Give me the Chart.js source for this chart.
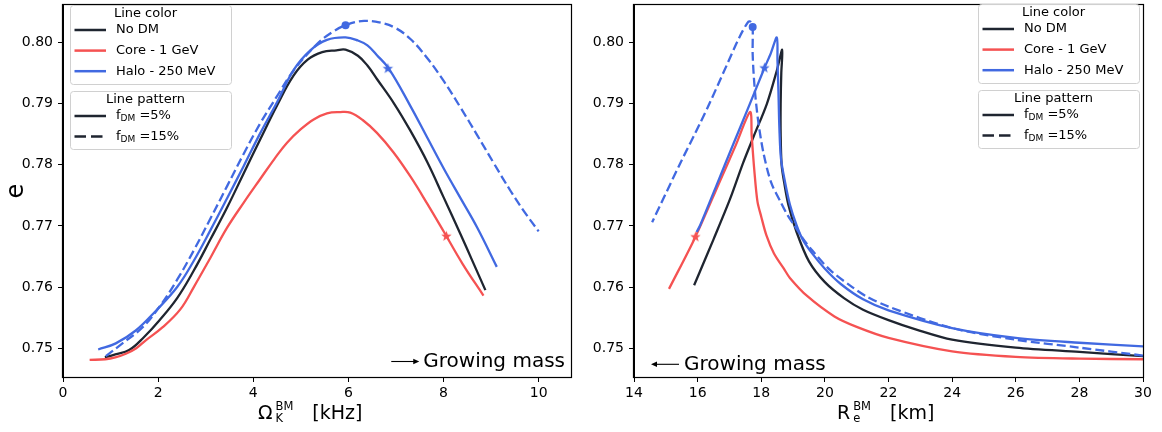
<!DOCTYPE html>
<html>
<head>
<meta charset="utf-8">
<script src="https://cdn.jsdelivr.net/npm/chart.js@4.4.0/dist/chart.umd.min.js"></script>
<style>
  html, body { margin: 0; padding: 0; background: #fff; }
  #wrap { position: relative; width: 1162px; height: 432px; }
  canvas { position: absolute; top: 0; }
</style>
</head>
<body>
<div id="wrap">
  <canvas id="omega-chart" width="580" height="432" style="left:0"></canvas>
  <canvas id="radius-chart" width="582" height="432" style="left:580px"></canvas>
</div>
<script>
const FONT = "'DejaVu Sans', sans-serif";
const BLACK = '#1f2530';
const RED = '#f55252';
const BLUE = '#4169e1';

// shared e axis
const eTicks = [0.75, 0.76, 0.77, 0.78, 0.79, 0.80];
const eRange = [0.7453, 0.8061];
const omegaTicks = [0, 2, 4, 6, 8, 10];
const omegaRange = [0, 10.68];
const radiusTicks = [14, 16, 18, 20, 22, 24, 26, 28, 30];
const radiusRange = [14, 30];

// left panel: Omega_K [kHz]
const omegaNoDM5 = [0.88, 1.10, 1.39, 1.70, 2.02, 2.40, 2.75, 3.10, 3.45, 3.80, 4.15, 4.50, 4.85, 5.15, 5.45, 5.75, 5.94, 6.20, 6.40, 6.60, 6.96, 7.30, 7.66, 8.00, 8.36, 8.60, 8.88];
const eNoDM5L = [0.7485, 0.7490, 0.7497, 0.7518, 0.7545, 0.7582, 0.7627, 0.7678, 0.7730, 0.7786, 0.7842, 0.7897, 0.7946, 0.7972, 0.7984, 0.7987, 0.7988, 0.7978, 0.7962, 0.7940, 0.7900, 0.7856, 0.7804, 0.7747, 0.7686, 0.7644, 0.7595];

const omegaCore5 = [0.56, 0.89, 1.10, 1.32, 1.54, 1.74, 2.09, 2.47, 2.75, 3.10, 3.45, 3.80, 4.15, 4.45, 4.71, 5.00, 5.27, 5.55, 5.83, 6.04, 6.30, 6.60, 6.95, 7.31, 7.66, 8.01, 8.40, 8.84];
const eCore5L = [0.7481, 0.7482, 0.7485, 0.7491, 0.7500, 0.7513, 0.7534, 0.7564, 0.7600, 0.7648, 0.7697, 0.7738, 0.7777, 0.7810, 0.7836, 0.7858, 0.7874, 0.7884, 0.7886, 0.7885, 0.7873, 0.7852, 0.7820, 0.7780, 0.7736, 0.7690, 0.7638, 0.7586];

const omegaHalo5 = [0.74, 1.11, 1.53, 1.95, 2.40, 2.75, 3.10, 3.45, 3.80, 4.15, 4.50, 4.85, 5.20, 5.55, 5.94, 6.20, 6.40, 6.60, 6.85, 7.31, 7.66, 8.01, 8.36, 8.71, 9.12];
const eHalo5L = [0.7498, 0.7508, 0.7529, 0.7561, 0.7600, 0.7643, 0.7693, 0.7745, 0.7798, 0.7852, 0.7902, 0.7955, 0.7987, 0.8004, 0.8008, 0.8003, 0.7995, 0.7979, 0.7957, 0.7895, 0.7844, 0.7793, 0.7745, 0.7697, 0.7633];

const omegaHalo15 = [0.90, 1.25, 1.67, 2.02, 2.40, 2.75, 3.10, 3.45, 3.80, 4.15, 4.50, 4.85, 5.34, 5.65, 5.94, 6.33, 6.68, 7.00, 7.31, 7.66, 8.01, 8.36, 8.71, 9.06, 9.41, 9.70, 10.00];
const eHalo15L = [0.7487, 0.7508, 0.7534, 0.7567, 0.7612, 0.7660, 0.7712, 0.7765, 0.7818, 0.7868, 0.7912, 0.7954, 0.7997, 0.8016, 0.8028, 0.8035, 0.8032, 0.8023, 0.8005, 0.7974, 0.7936, 0.7893, 0.7848, 0.7802, 0.7757, 0.7723, 0.7691];

const omegaStars = [8.06, 6.83];
const eStarsL = [0.7683, 0.7957];
const omegaDot = [5.94];
const eDotL = [0.8028];

// right panel: R_e [km]
const radiusNoDM5 = [30.0, 28.0, 26.0, 24.0, 22.9, 22.0, 21.2, 20.6, 20.0, 19.5, 19.11, 18.85, 18.72, 18.64, 18.61, 18.61, 18.63, 18.66, 18.49, 18.18, 17.76, 17.43, 17.02, 16.50, 16.07, 15.89];
const eNoDM5R = [0.7487, 0.7494, 0.7501, 0.7514, 0.7530, 0.7546, 0.7563, 0.7582, 0.7608, 0.7642, 0.7690, 0.7735, 0.7771, 0.7800, 0.7850, 0.7900, 0.7950, 0.7988, 0.7954, 0.7900, 0.7846, 0.7803, 0.7744, 0.7678, 0.7625, 0.7603];

const radiusCore5 = [30.0, 28.0, 26.0, 24.0, 22.0, 21.0, 20.3, 19.45, 18.9, 18.7, 18.4, 18.16, 18.0, 17.88, 17.78, 17.70, 17.65, 17.20, 16.70, 15.93, 15.10];
const eCore5R = [0.7482, 0.7483, 0.7486, 0.7495, 0.7517, 0.7535, 0.7552, 0.7585, 0.7615, 0.7631, 0.7655, 0.7685, 0.7715, 0.7740, 0.7792, 0.7847, 0.7886, 0.7832, 0.7773, 0.7682, 0.7597];

const radiusHalo5 = [30.0, 28.0, 26.0, 24.0, 22.0, 21.2, 20.5, 20.0, 19.6, 19.3, 19.11, 18.90, 18.75, 18.62, 18.57, 18.54, 18.51, 18.49, 18.30, 18.10, 17.60, 17.10, 16.60, 16.08, 15.97];
const eHalo5R = [0.7503, 0.7509, 0.7517, 0.7533, 0.7562, 0.7580, 0.7605, 0.7630, 0.7655, 0.7678, 0.7701, 0.7735, 0.7771, 0.7810, 0.7860, 0.7920, 0.7970, 0.8008, 0.7982, 0.7958, 0.7894, 0.7831, 0.7767, 0.7701, 0.7690];

const radiusHalo15 = [30.0, 28.0, 26.0, 24.0, 22.0, 21.3, 20.86, 20.16, 19.6, 19.3, 19.05, 18.80, 18.60, 18.31, 18.07, 17.90, 17.79, 17.73, 17.73, 17.68, 17.60, 17.33, 16.91, 16.39, 16.08, 15.47, 14.57];
const eHalo15R = [0.7488, 0.7501, 0.7514, 0.7533, 0.7568, 0.7585, 0.7600, 0.7628, 0.7660, 0.7680, 0.7700, 0.7720, 0.7740, 0.7771, 0.7819, 0.7873, 0.7927, 0.7981, 0.8025, 0.8033, 0.8034, 0.8010, 0.7962, 0.7902, 0.7868, 0.7804, 0.7706];

const radiusStars = [15.93, 18.10];
const eStarsR = [0.7682, 0.7958];
const radiusDot = [17.73];
const eDotR = [0.8025];

const starColors = [RED, BLUE];

function zip(xs, ys) {
    return xs.map((x, i) => ({ x: x, y: ys[i] }));
}

function makeStar(color, r) {
    const c = document.createElement('canvas');
    const s = Math.ceil(r * 2 + 2);
    c.width = s;
    c.height = s;
    const g = c.getContext('2d');
    g.fillStyle = color;
    g.beginPath();
    for (let i = 0; i < 10; i++) {
        const rad = i % 2 === 0 ? r : r * 0.42;
        const a = -Math.PI / 2 + i * Math.PI / 5;
        g.lineTo(s / 2 + rad * Math.cos(a), s / 2 + rad * Math.sin(a));
    }
    g.closePath();
    g.fill();
    return c;
}

function lineSet(points, color, dashed, tension) {
    return {
        data: points,
        showLine: true,
        borderColor: color,
        borderWidth: 2.3,
        borderDash: dashed ? [9, 4] : [],
        pointRadius: 0,
        tension: tension,
        fill: false
    };
}

function markerSets(xs, ys, dotX, dotY) {
    return [
        {
            data: zip(xs, ys),
            showLine: false,
            pointStyle: starColors.map(c => makeStar(c, 5.5)),
            pointRadius: 5,
            pointBackgroundColor: starColors,
            pointBorderWidth: 0
        },
        {
            data: zip(dotX, dotY),
            showLine: false,
            pointStyle: 'circle',
            pointRadius: 4,
            pointBackgroundColor: BLUE,
            pointBorderColor: BLUE,
            pointBorderWidth: 0
        }
    ];
}

function roundRect(ctx, x, y, w, h, r) {
    ctx.beginPath();
    ctx.moveTo(x + r, y);
    ctx.arcTo(x + w, y, x + w, y + h, r);
    ctx.arcTo(x + w, y + h, x, y + h, r);
    ctx.arcTo(x, y + h, x, y, r);
    ctx.arcTo(x, y, x + w, y, r);
    ctx.closePath();
}

function legendBox(ctx, x, y, w, h) {
    roundRect(ctx, x + 0.5, y + 0.5, w, h, 3);
    ctx.fillStyle = 'rgba(255,255,255,0.85)';
    ctx.fill();
    ctx.strokeStyle = '#d0d0d0';
    ctx.lineWidth = 1;
    ctx.stroke();
}

function handle(ctx, x, y, color, dash) {
    ctx.save();
    ctx.strokeStyle = color;
    ctx.lineWidth = 2.5;
    ctx.setLineDash(dash);
    ctx.beginPath();
    ctx.moveTo(x + 4.5, y);
    ctx.lineTo(x + 36, y);
    ctx.stroke();
    ctx.restore();
}

function fdmLabel(ctx, x, y, rest) {
    ctx.font = '13px ' + FONT;
    ctx.fillText('f', x, y);
    let cx = x + ctx.measureText('f').width;
    ctx.font = '9px ' + FONT;
    ctx.fillText('DM', cx, y + 3);
    cx += ctx.measureText('DM').width;
    ctx.font = '13px ' + FONT;
    ctx.fillText(' ' + rest, cx, y);
}

function drawLegends(ctx, x, y) {
    const w = 161;
    ctx.save();
    legendBox(ctx, x, y, w, 79);
    legendBox(ctx, x, y + 86, w, 58);
    ctx.fillStyle = '#000';
    ctx.textBaseline = 'middle';
    ctx.font = '13px ' + FONT;
    ctx.textAlign = 'center';
    ctx.fillText('Line color', x + w / 2 - 5, y + 8.5);
    ctx.fillText('Line pattern', x + w / 2 - 5, y + 86 + 8.5);
    ctx.textAlign = 'left';
    const rows = [
        [BLACK, 'No DM'],
        [RED, 'Core - 1 GeV'],
        [BLUE, 'Halo - 250 MeV']
    ];
    rows.forEach((r, i) => {
        const ry = y + 25 + i * 20.6;
        handle(ctx, x, ry, r[0], []);
        ctx.fillStyle = '#000';
        ctx.fillText(r[1], x + 46, ry);
    });
    handle(ctx, x, y + 86 + 25, BLACK, []);
    handle(ctx, x, y + 86 + 45.5, BLACK, [11.5, 5]);
    ctx.fillStyle = '#000';
    fdmLabel(ctx, x + 46, y + 86 + 25, '=5%');
    fdmLabel(ctx, x + 46, y + 86 + 45.5, '=15%');
    ctx.restore();
}

function arrow(ctx, xTail, xHead, y) {
    const dir = xHead > xTail ? 1 : -1;
    ctx.save();
    ctx.strokeStyle = '#000';
    ctx.fillStyle = '#000';
    ctx.lineWidth = 1.1;
    ctx.beginPath();
    ctx.moveTo(xTail, y);
    ctx.lineTo(xHead - dir * 5, y);
    ctx.stroke();
    ctx.beginPath();
    ctx.moveTo(xHead, y);
    ctx.lineTo(xHead - dir * 6, y - 2.8);
    ctx.lineTo(xHead - dir * 6, y + 2.8);
    ctx.closePath();
    ctx.fill();
    ctx.restore();
}

function axisLabel(ctx, x, y, main, sup, sub, unit) {
    ctx.save();
    ctx.fillStyle = '#000';
    ctx.textAlign = 'left';
    ctx.textBaseline = 'alphabetic';
    ctx.font = '19px ' + FONT;
    ctx.fillText(main, x, y);
    const sx = x + ctx.measureText(main).width + 3;
    ctx.font = '11.5px ' + FONT;
    ctx.fillText(sup, sx, y - 8.5);
    ctx.fillText(sub, sx, y + 3.3);
    const supW = ctx.measureText(sup).width;
    ctx.font = '19px ' + FONT;
    ctx.fillText(unit, sx + supW + 19, y);
    ctx.restore();
}

function framePlugin(decorate) {
    return {
        id: 'frame',
        afterDraw(chart) {
            const ctx = chart.ctx;
            const a = chart.chartArea;
            ctx.save();
            ctx.strokeStyle = '#000';
            ctx.lineWidth = 1.2;
            ctx.strokeRect(Math.round(a.left) - 0.5, Math.round(a.top) - 0.5,
                Math.round(a.right - a.left) + 1, Math.round(a.bottom - a.top) + 1);
            ctx.restore();
            decorate(ctx, a);
        }
    };
}

function scalesFor(xRange, xTicks, yWidth) {
    const tickFont = { family: FONT, size: 14 };
    const grid = { display: true, drawOnChartArea: false, drawTicks: true, tickLength: 5, color: '#000', lineWidth: 1 };
    return {
        x: {
            type: 'linear',
            min: xRange[0],
            max: xRange[1],
            afterBuildTicks: s => { s.ticks = xTicks.map(v => ({ value: v })); },
            afterFit: s => { s.height = 55; s.paddingLeft = 0; s.paddingRight = 0; },
            ticks: { font: tickFont, color: '#000', padding: 3, maxRotation: 0, autoSkip: false, callback: v => String(v) },
            grid: grid,
            border: { display: true, color: '#000', width: 1 }
        },
        y: {
            type: 'linear',
            min: eRange[0],
            max: eRange[1],
            afterBuildTicks: s => { s.ticks = eTicks.map(v => ({ value: v })); },
            afterFit: s => { s.width = yWidth; s.paddingTop = 0; s.paddingBottom = 0; },
            ticks: { font: tickFont, color: '#000', padding: 5, autoSkip: false, callback: v => v.toFixed(2) },
            grid: grid,
            border: { display: true, color: '#000', width: 1 }
        }
    };
}

function baseOptions(xRange, xTicks, yWidth, padRight) {
    return {
        responsive: false,
        animation: false,
        devicePixelRatio: 1,
        layout: { padding: { left: 0, right: padRight, top: 1, bottom: 0 } },
        plugins: { legend: { display: false }, tooltip: { enabled: false } },
        scales: scalesFor(xRange, xTicks, yWidth)
    };
}

new Chart(document.getElementById('omega-chart'), {
    type: 'scatter',
    data: {
        datasets: [
            ...markerSets(omegaStars, eStarsL, omegaDot, eDotL),
            lineSet(zip(omegaHalo15, eHalo15L), BLUE, true, 0.4),
            lineSet(zip(omegaHalo5, eHalo5L), BLUE, false, 0.4),
            lineSet(zip(omegaCore5, eCore5L), RED, false, 0.4),
            lineSet(zip(omegaNoDM5, eNoDM5L), BLACK, false, 0.4)
        ]
    },
    options: baseOptions(omegaRange, omegaTicks, 63, 9),
    plugins: [framePlugin((ctx, a) => {
        drawLegends(ctx, a.left + 7, 5);
        ctx.save();
        ctx.font = '20px ' + FONT;
        ctx.fillStyle = '#000';
        ctx.textBaseline = 'middle';
        const txt = 'Growing mass';
        const tw = ctx.measureText(txt).width;
        const tx = a.right - 6 - tw;
        const ty = a.bottom - 15.5;
        ctx.fillText(txt, tx, ty);
        ctx.restore();
        arrow(ctx, tx - 32, tx - 4, ty);
        axisLabel(ctx, a.left + 195, 418.5, 'Ω', 'BM', 'K', '[kHz]');
        ctx.save();
        ctx.translate(16.5, (a.top + a.bottom) / 2);
        ctx.rotate(-Math.PI / 2);
        ctx.font = '24px ' + FONT;
        ctx.fillStyle = '#000';
        ctx.textAlign = 'center';
        ctx.textBaseline = 'middle';
        ctx.fillText('e', 0, 0);
        ctx.restore();
    })]
});

new Chart(document.getElementById('radius-chart'), {
    type: 'scatter',
    data: {
        datasets: [
            ...markerSets(radiusStars, eStarsR, radiusDot, eDotR),
            lineSet(zip(radiusHalo15, eHalo15R), BLUE, true, 0.3),
            lineSet(zip(radiusHalo5, eHalo5R), BLUE, false, 0.3),
            lineSet(zip(radiusCore5, eCore5R), RED, false, 0.3),
            lineSet(zip(radiusNoDM5, eNoDM5R), BLACK, false, 0.3)
        ]
    },
    options: baseOptions(radiusRange, radiusTicks, 54, 19),
    plugins: [framePlugin((ctx, a) => {
        drawLegends(ctx, a.right - 165, 4);
        const ty = a.bottom - 12.7;
        const tx = a.left + 50;
        ctx.save();
        ctx.font = '20px ' + FONT;
        ctx.fillStyle = '#000';
        ctx.textBaseline = 'middle';
        ctx.fillText('Growing mass', tx, ty);
        ctx.restore();
        arrow(ctx, tx - 5, tx - 33, ty);
        axisLabel(ctx, a.left + 203, 418.5, 'R', 'BM', 'e', '[km]');
    })]
});
</script>
</body>
</html>
